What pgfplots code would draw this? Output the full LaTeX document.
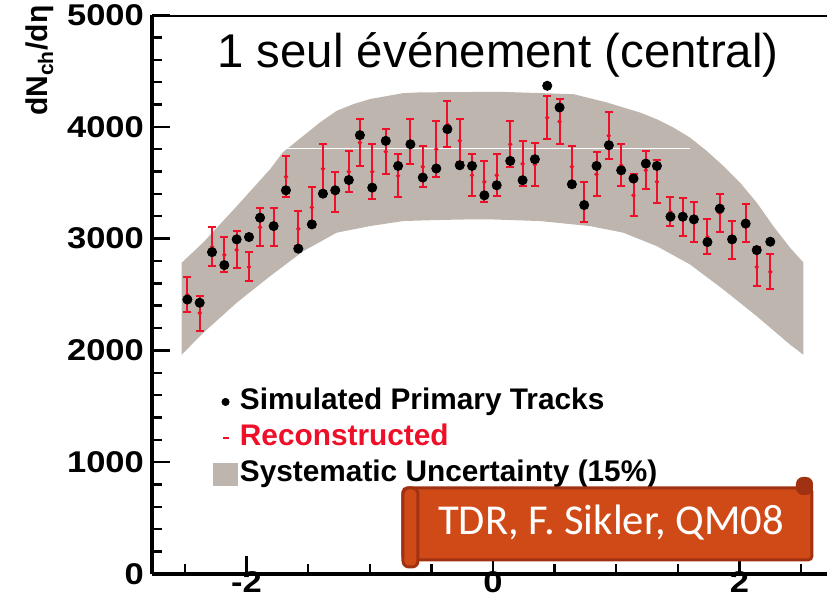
\documentclass[border=0pt]{standalone}
\usepackage{fontspec}
\setmainfont{Liberation Sans}
\newfontfamily\carlito{Carlito}
\usepackage{pgfplots}
\pgfplotsset{compat=1.18}
\usepackage{pgfplotstable}

\definecolor{band}{RGB}{190,182,174}
\definecolor{recored}{RGB}{238,16,40}
\definecolor{scrollfill}{RGB}{208,74,24}
\definecolor{scrolledge}{RGB}{160,50,18}

% eta, simulated, reconstructed, error of reconstructed
\pgfplotstableread{
x ys yr e
-2.48 2455 2496 157
-2.38 2426 2334 157
-2.28 2879 2926 175
-2.18 2763 2854 157
-2.08 2993 2899 166
-1.98 3014 2747 130
-1.89 3187 3101 170
-1.78 3112 3101 170
-1.68 3432 3553 184
-1.58 2910 3087 157
-1.47 3127 3280 179
-1.38 3402 3625 225
-1.28 3432 3414 179
-1.17 3524 3598 184
-1.08 3925 3858 211
-0.98 3456 3598 246
-0.87 3874 3777 202
-0.77 3650 3562 193
-0.67 3844 3867 202
-0.57 3546 3643 184
-0.46 3627 3799 251
-0.37 3979 4023 206
-0.27 3656 3876 193
-0.17 3650 3566 188
-0.07 3387 3508 184
0.03 3477 3566 188
0.14 3695 3844 206
0.24 3522 3669 202
0.34 3710 3661 193
0.44 4367 4082 193
0.54 4173 4046 202
0.64 3486 3643 184
0.74 3300 3325 179
0.84 3650 3575 197
0.94 3835 3920 211
1.04 3611 3656 188
1.14 3537 3387 188
1.24 3671 3611 170
1.33 3650 3508 193
1.44 3196 3239 130
1.54 3196 3190 170
1.63 3172 3145 179
1.74 2969 3015 157
1.84 3268 3226 170
1.94 2993 2984 170
2.05 3134 3136 170
2.14 2897 2747 175
2.25 2972 2702 157
}\points

\begin{document}
\begin{tikzpicture}
\path[use as bounding box] (-76pt,-15.5pt) rectangle (337.5pt,287pt);
\begin{axis}[
    scale only axis, width=337.5pt, height=279.5pt,
    xmin=-2.767, xmax=2.71, ymin=0, ymax=5000,
    axis x line*=bottom, axis y line*=left,
    axis line style={line width=1.6pt, -},
    xtick={-2,0,2}, xticklabels={-2,0,2},
    minor xtick={-2.5,-1.5,-1,-0.5,0.5,1,1.5,2.5},
    ytick={0,1000,2000,3000,4000,5000},
    yticklabels={0,1000,2000,3000,4000,5000},
    minor y tick num=4,
    xtick align=inside, ytick align=inside,
    major tick length=9pt, minor tick length=5pt,
    every tick/.style={black, line width=1.2pt},
    tick label style={font=\bfseries\fontsize{15}{15}\selectfont, xscale=1.15},
    xticklabel style={yshift=2.5pt, inner sep=1pt},
    legend style={at={(axis description cs:0.09,0.338)}, anchor=north west,
        draw=none, fill=none, inner sep=0pt, row sep=1.5pt,
        nodes={inner sep=1pt, text height=11pt, text depth=3.5pt},
        font=\bfseries\fontsize{14.9}{17}\selectfont},
    legend cell align=left,
]
\addplot[fill=band, draw=none, forget plot] coordinates {
(-2.526,2784) (-2.351,2966) (-2.080,3289) (-1.809,3620) (-1.704,3773)
(-1.539,3919) (-1.404,4039) (-1.268,4143) (-1.133,4203) (-0.998,4248)
(-0.730,4301) (-0.592,4308) (0.057,4313) (0.652,4292) (0.923,4218)
(1.057,4173) (1.193,4128) (1.328,4068) (1.463,3994) (1.598,3904)
(1.734,3784) (1.869,3650) (2.004,3501) (2.140,3322) (2.274,3112)
(2.410,2919) (2.518,2787)
(2.518,1962) (2.410,2052) (2.140,2306) (1.869,2545) (1.598,2769)
(1.328,2933) (1.057,3053) (0.787,3112) (0.381,3157) (-0.024,3172)
(-0.187,3172) (-0.457,3166) (-0.728,3157) (-0.998,3112) (-1.268,3053)
(-1.539,2888) (-1.809,2664) (-2.080,2426) (-2.351,2157) (-2.526,1962)
} -- cycle;
\draw[white, line width=0.6pt] (axis cs:-1.71,3808) -- (axis cs:1.6,3808);
\addplot[recored, only marks, mark=*, mark size=0.9pt, forget plot,
    error bars/.cd, y dir=both, y explicit,
    error bar style={line width=1pt, recored},
    error mark=-,
    error mark options={rotate=90, recored, mark size=2pt, line width=1pt}]
    table[x=x, y=yr, y error=e] {\points};
\addplot[black, only marks, mark=*, mark size=2.3pt, forget plot]
    table[x=x, y=ys] {\points};
\draw[line width=1.6pt] (rel axis cs:0,1) -- (rel axis cs:1,1);

\addlegendimage{legend image code/.code={\fill[black] (6pt,0) circle (1.8pt); \path[draw=none, fill=none] (0,-5.5pt) rectangle (12pt,5.5pt);}}
\addlegendentry{Simulated Primary Tracks}
\addlegendimage{legend image code/.code={\draw[recored, line width=1pt] (4.5pt,0) -- (7.5pt,0); \path[draw=none, fill=none] (0,-5.5pt) rectangle (12pt,5.5pt);}}
\addlegendentry{\textcolor{recored}{Reconstructed}}
\addlegendimage{legend image code/.code={\fill[band] (0,-5.5pt) rectangle (12pt,5.5pt);}}
\addlegendentry{Systematic Uncertainty (15\%)}
\end{axis}

\node[rotate=90, anchor=east, inner sep=0pt, font=\bfseries\fontsize{15}{15}\selectfont]
    at (-56pt,284.5pt) {dN\textsubscript{ch}/dη};
\node[anchor=base west, inner sep=0pt, font=\fontsize{23.7}{28}\selectfont]
    at (32.5pt,253pt) {1 seul événement (central)};

\filldraw[fill=scrollfill, draw=scrolledge, line width=1.5pt, rounded corners=2pt]
    (125.5pt,7pt) rectangle (330pt,43pt);
\filldraw[fill=scrollfill, draw=scrolledge, line width=1.5pt, rounded corners=3pt]
    (125.5pt,3.5pt) rectangle (133pt,43pt);
\filldraw[fill=scrolledge, draw=scrolledge, line width=1pt, rounded corners=3pt]
    (322.5pt,40pt) rectangle (330pt,48pt);
\node[text=white, anchor=base, inner sep=0pt, font=\carlito\fontsize{21.3}{25}\selectfont]
    at (229.5pt,19.5pt) {TDR, F. Sikler, QM08};
\end{tikzpicture}
\end{document}
